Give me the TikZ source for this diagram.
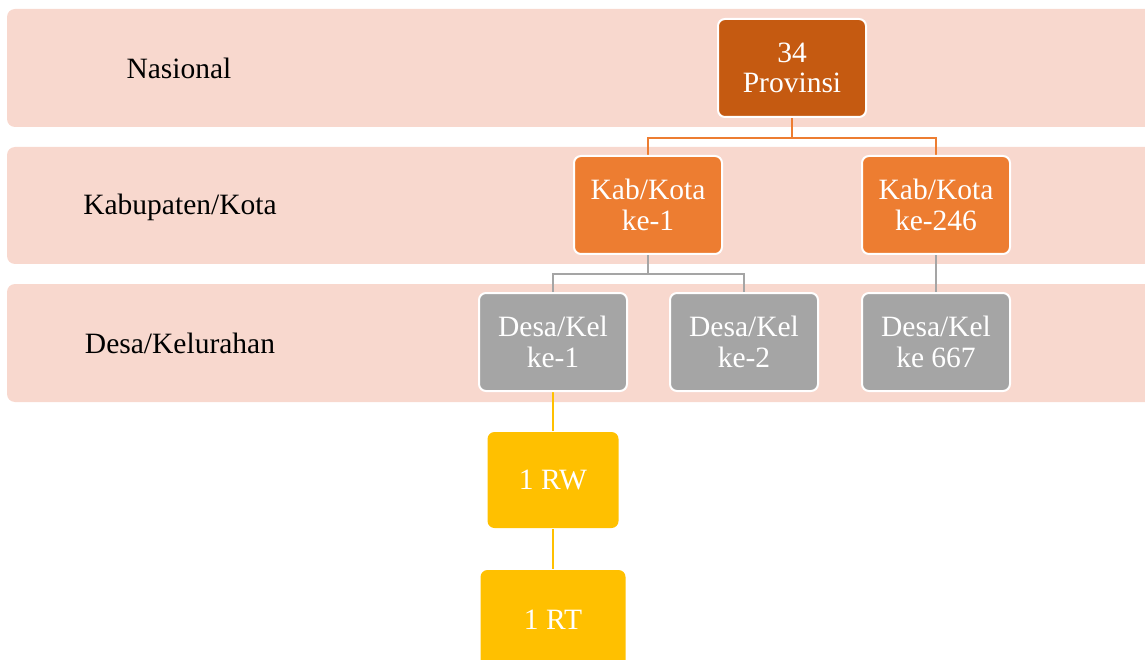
\documentclass[tikz,border=0pt]{standalone}
\usepackage{fontspec}
\setmainfont{Liberation Serif}
\definecolor{band}{HTML}{F8D8CE}
\definecolor{prov}{HTML}{C55A11}
\definecolor{kab}{HTML}{ED7D31}
\definecolor{desa}{HTML}{A5A5A5}
\definecolor{rw}{HTML}{FFC000}
\pgfdeclarelayer{bandlayer}
\pgfdeclarelayer{linklayer}
\pgfsetlayers{bandlayer,linklayer,main}
\begin{document}
\begin{tikzpicture}[x=1pt,y=-1pt,
  bandbox/.style={fill=band,draw=none,rounded corners=8pt},
  lvl/.style={font=\fontsize{29.5}{31}\selectfont,text=black},
  unit/.style={draw=white,line width=2pt,rounded corners=7pt,minimum width=148pt,minimum height=98pt,
    inner sep=0pt,align=center,text=white,font=\fontsize{29.5}{30.5}\selectfont},
  provbox/.style={unit,fill=prov},
  kabbox/.style={unit,fill=kab},
  desabox/.style={unit,fill=desa},
  rwbox/.style={unit,fill=rw,draw=none},
  link/.style={line width=2pt}
]
\useasboundingbox (0,0) rectangle (1145,660);
\begin{pgfonlayer}{bandlayer}
\fill[bandbox] (7,9) rectangle (1165,127);
\fill[bandbox] (7,147) rectangle (1165,264);
\fill[bandbox] (7,284) rectangle (1165,402);
\end{pgfonlayer}
\node[lvl] (l1) at (179,68) {Nasional};
\node[lvl] (l2) at (180,207) {Kabupaten/Kota};
\node[lvl] (l3) at (180,343) {Desa/Kelurahan};

\node[provbox] (p) at (792,68) {34\\Provinsi};
\node[kabbox] (k1) at (648,205) {Kab/Kota\\ke-1};
\node[kabbox] (k2) at (936,205) {Kab/Kota\\ke-246};
\node[desabox] (d1) at (553,342) {Desa/Kel\\ke-1};
\node[desabox] (d2) at (744,342) {Desa/Kel\\ke-2};
\node[desabox] (d3) at (936,342) {Desa/Kel\\ke 667};
\node[rwbox,minimum width=131pt,minimum height=96pt] (rw) at (553,480) {1 RW};
\node[rwbox,minimum width=145pt,minimum height=100pt] (rt) at (553,620) {1 RT};

\begin{pgfonlayer}{linklayer}
\draw[link,kab] (p.south) -- ++(0,20) -| (k1.north);
\draw[link,kab] (p.south) -- ++(0,20) -| (k2.north);
\draw[link,desa] (k1.south) -- ++(0,19) -| (d1.north);
\draw[link,desa] (k1.south) -- ++(0,19) -| (d2.north);
\draw[link,desa] (k2.south) -- (d3.north);
\draw[link,rw] (d1.south) -- (rw.north);
\draw[link,rw] (rw.south) -- (rt.north);
\end{pgfonlayer}
\end{tikzpicture}
\end{document}
